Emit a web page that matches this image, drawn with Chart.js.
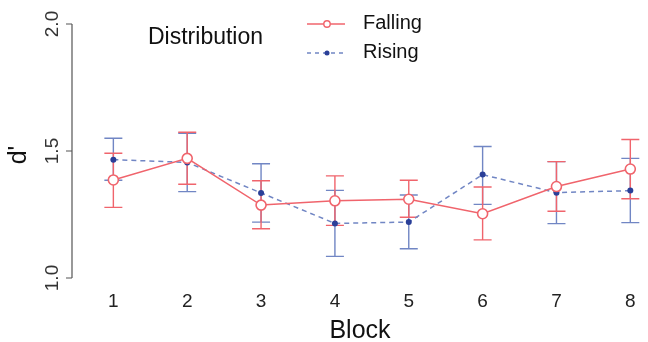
<!DOCTYPE html>
<html>
<head>
<meta charset="utf-8">
<script src="https://cdn.jsdelivr.net/npm/chart.js@4.4.1/dist/chart.umd.min.js"></script>
<style>
  html, body { margin: 0; padding: 0; background: #fff; }
  #wrap { width: 648px; height: 342px; }
</style>
</head>
<body>
<div id="wrap"><canvas id="c" width="648" height="342"></canvas></div>
<script>
// values
const blocks = [1, 2, 3, 4, 5, 6, 7, 8];
const fallingMean = [1.386, 1.471, 1.287, 1.304, 1.310, 1.253, 1.360, 1.429];
const fallingHi   = [1.491, 1.574, 1.383, 1.402, 1.385, 1.358, 1.458, 1.545];
const fallingLo   = [1.278, 1.369, 1.194, 1.207, 1.239, 1.150, 1.263, 1.312];
const risingMean  = [1.466, 1.455, 1.335, 1.215, 1.220, 1.407, 1.336, 1.344];
const risingHi    = [1.550, 1.570, 1.450, 1.345, 1.327, 1.518, 1.458, 1.471];
const risingLo    = [1.385, 1.340, 1.220, 1.085, 1.115, 1.290, 1.214, 1.218];
const yTicks = [1.0, 1.5, 2.0];

const RED = "#f0646c";
const BLUE = "#7186c4";
const BLUE_DOT = "#2a3f98";
const FONT = "'Liberation Sans', Arial, sans-serif";

function pts(means) {
  return blocks.map((b, i) => ({ x: b, y: means[i] }));
}

// error bars for each dataset, drawn under the points
const errorBars = {
  id: "errorBars",
  beforeDatasetsDraw(chart) {
    const { ctx, scales: { x, y } } = chart;
    const sets = [
      { lo: risingLo, hi: risingHi, color: BLUE },
      { lo: fallingLo, hi: fallingHi, color: RED }
    ];
    ctx.save();
    ctx.lineWidth = 1.4;
    sets.forEach((s) => {
      ctx.strokeStyle = s.color;
      blocks.forEach((b, i) => {
        const px = x.getPixelForValue(b);
        const top = y.getPixelForValue(s.hi[i]);
        const bot = y.getPixelForValue(s.lo[i]);
        ctx.beginPath();
        ctx.moveTo(px, top); ctx.lineTo(px, bot);
        ctx.moveTo(px - 9, top); ctx.lineTo(px + 9, top);
        ctx.moveTo(px - 9, bot); ctx.lineTo(px + 9, bot);
        ctx.stroke();
      });
    });
    ctx.restore();
  }
};

// R-style left axis, titles and legend box
const decorations = {
  id: "decorations",
  afterDraw(chart) {
    const { ctx, scales: { x, y } } = chart;
    ctx.save();
    // y axis line and ticks
    const ax = 72;
    ctx.strokeStyle = "#555";
    ctx.lineWidth = 1.2;
    ctx.beginPath();
    ctx.moveTo(ax, y.getPixelForValue(yTicks[0]));
    ctx.lineTo(ax, y.getPixelForValue(yTicks[yTicks.length - 1]));
    yTicks.forEach((t) => {
      const py = y.getPixelForValue(t);
      ctx.moveTo(ax, py); ctx.lineTo(ax - 6, py);
    });
    ctx.stroke();
    ctx.fillStyle = "#333";
    ctx.font = "19px " + FONT;
    ctx.textAlign = "center";
    ctx.textBaseline = "alphabetic";
    yTicks.forEach((t) => {
      const py = y.getPixelForValue(t);
      ctx.save();
      ctx.translate(58, py);
      ctx.rotate(-Math.PI / 2);
      ctx.fillText(t.toFixed(1), 0, 0);
      ctx.restore();
    });
    // y title
    ctx.save();
    ctx.translate(26, y.getPixelForValue(1.5) + 4);
    ctx.rotate(-Math.PI / 2);
    ctx.fillStyle = "#111";
    ctx.font = "25px " + FONT;
    ctx.fillText("d'", 0, 0);
    ctx.restore();
    // x title
    ctx.textBaseline = "middle";
    ctx.fillStyle = "#111";
    ctx.font = "25px " + FONT;
    ctx.fillText("Block", 360, 331);

    // legend
    ctx.textAlign = "left";
    ctx.fillStyle = "#111";
    ctx.font = "23px " + FONT;
    ctx.fillText("Distribution", 148, 38);
    ctx.font = "20px " + FONT;
    ctx.fillText("Falling", 363, 23);
    ctx.fillText("Rising", 363, 52);
    ctx.lineWidth = 1.4;
    ctx.strokeStyle = RED;
    ctx.beginPath(); ctx.moveTo(307, 24); ctx.lineTo(345, 24); ctx.stroke();
    ctx.fillStyle = "#fff";
    ctx.beginPath(); ctx.arc(327, 24, 3.2, 0, Math.PI * 2); ctx.fill(); ctx.stroke();
    ctx.strokeStyle = BLUE;
    ctx.setLineDash([4, 4]);
    ctx.beginPath(); ctx.moveTo(307, 53); ctx.lineTo(345, 53); ctx.stroke();
    ctx.setLineDash([]);
    ctx.fillStyle = BLUE_DOT;
    ctx.beginPath(); ctx.arc(327, 53, 2.5, 0, Math.PI * 2); ctx.fill();
    ctx.restore();
  }
};

new Chart(document.getElementById("c"), {
  type: "line",
  data: {
    datasets: [
      {
        label: "Falling",
        data: pts(fallingMean),
        borderColor: RED,
        borderWidth: 1.5,
        pointRadius: 5,
        pointBackgroundColor: "#fff",
        pointBorderColor: RED,
        pointBorderWidth: 1.6,
        order: 1
      },
      {
        label: "Rising",
        data: pts(risingMean),
        borderColor: BLUE,
        borderWidth: 1.5,
        borderDash: [5, 4],
        pointRadius: 3,
        pointBackgroundColor: BLUE_DOT,
        pointBorderColor: BLUE_DOT,
        pointBorderWidth: 0,
        order: 2
      }
    ]
  },
  options: {
    responsive: false,
    animation: false,
    layout: { padding: { top: 24, right: 0 } },
    plugins: { legend: { display: false }, tooltip: { enabled: false } },
    scales: {
      x: {
        type: "linear",
        min: 0.44,
        max: 8.15,
        afterBuildTicks: (s) => { s.ticks = blocks.map((v) => ({ value: v })); },
        afterFit: (s) => { s.height = 64; },
        grid: { display: false },
        border: { display: false },
        ticks: { color: "#222", font: { size: 19, family: FONT }, padding: 4 }
      },
      y: {
        min: 1,
        max: 2,
        afterFit: (s) => { s.width = 72; },
        grid: { display: false },
        border: { display: false },
        ticks: { display: false }
      }
    }
  },
  plugins: [errorBars, decorations]
});
</script>
</body>
</html>
